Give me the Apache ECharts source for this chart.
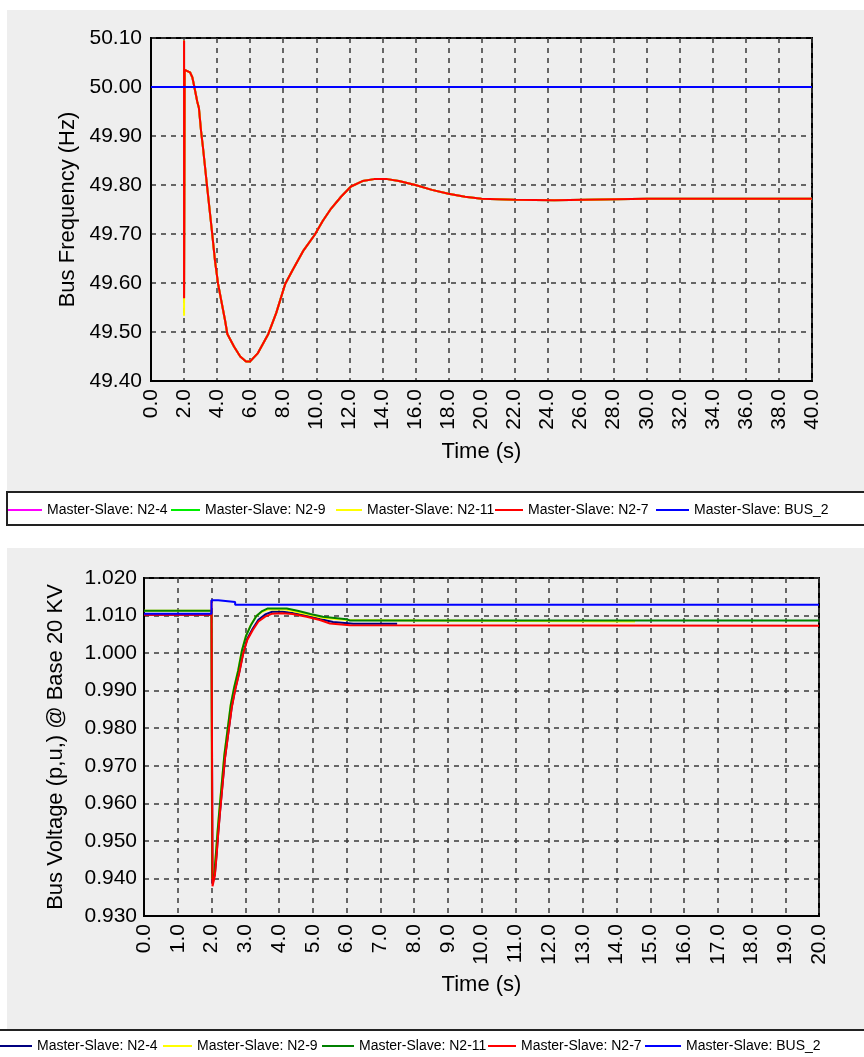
<!DOCTYPE html>
<html>
<head>
<meta charset="utf-8">
<script src="https://cdn.jsdelivr.net/npm/echarts@6/dist/echarts.min.js"></script>
<style>
html,body{margin:0;padding:0;background:#fff;width:864px;height:1057px;overflow:hidden;}
.abs{position:absolute;box-sizing:border-box;}
</style>
</head>
<body>
<div class="abs" style="left:7px;top:10px;width:857px;height:482px;background:#eeeeee;"></div>
<div class="abs" style="left:6px;top:491px;width:880px;height:35px;border:2px solid #222;background:#fff;"></div>
<div class="abs" style="left:7px;top:548px;width:857px;height:482px;background:#eeeeee;"></div>
<div class="abs" style="left:-3px;top:1029px;width:880px;height:40px;border:2px solid #222;background:#fff;"></div>
<div id="c1" class="abs" style="left:0;top:0;width:864px;height:540px;"></div>
<div id="c2" class="abs" style="left:0;top:540px;width:864px;height:517px;"></div>
<script>
// ---------- Top chart: Bus Frequency ----------
const freqXTicks = { min: 0, max: 40, interval: 2 };
const freqYTicks = { min: 49.4, max: 50.1, interval: 0.1 };
const freqNames = ['Master-Slave: N2-4', 'Master-Slave: N2-9', 'Master-Slave: N2-11', 'Master-Slave: N2-7', 'Master-Slave: BUS_2'];
const freqColors = ['#ff00ff', '#00ee00', '#ffff00', '#ff0000', '#0000ff'];

const freqTime = [0.0, 2.0, 2.0, 2.0, 2.04, 2.36, 2.5, 2.6, 2.8, 2.9, 3.03, 3.15, 3.4, 3.68, 3.88, 4.06, 4.48, 4.62, 5.03, 5.4, 5.75, 6.0, 6.47, 7.1, 7.58, 8.12, 8.58, 9.2, 9.9, 10.4, 10.9, 11.5, 12.1, 12.8, 13.5, 14.3, 15.0, 16.0, 17.0, 18.0, 19.0, 20.0, 22.0, 24.4, 24.4, 30.0, 40.0];
const freqN27 = [50.000, 50.000, 50.095, 49.569, 50.035, 50.030, 50.020, 50.004, 49.970, 49.957, 49.910, 49.875, 49.795, 49.708, 49.643, 49.598, 49.524, 49.496, 49.470, 49.450, 49.440, 49.440, 49.457, 49.496, 49.539, 49.598, 49.627, 49.665, 49.698, 49.727, 49.752, 49.776, 49.797, 49.808, 49.812, 49.812, 49.808, 49.800, 49.790, 49.782, 49.776, 49.772, 49.770, 49.769, 49.772, 49.772, 49.772];
const freqN211 = [50.000, 50.000, 50.095, 49.533, 50.035, 50.030, 50.020, 50.004, 49.970, 49.957, 49.910, 49.875, 49.795, 49.708, 49.643, 49.598, 49.524, 49.496, 49.470, 49.450, 49.440, 49.440, 49.457, 49.496, 49.539, 49.598, 49.627, 49.665, 49.698, 49.727, 49.752, 49.776, 49.797, 49.808, 49.812, 49.812, 49.808, 49.800, 49.790, 49.782, 49.776, 49.772, 49.770, 49.769, 49.772, 49.772, 49.772];
// N2-4 and N2-9 coincide with N2-7 in the picture (hidden underneath)
const freqN24 = freqN27;
const freqN29 = freqN27;
const freqBusTime = [0.0, 40.0];
const freqBus = [50.000, 50.000];

// ---------- Bottom chart: Bus Voltage ----------
const voltXTicks = { min: 0, max: 20, interval: 1 };
const voltYTicks = { min: 0.93, max: 1.02, interval: 0.01 };
const voltNames = ['Master-Slave: N2-4', 'Master-Slave: N2-9', 'Master-Slave: N2-11', 'Master-Slave: N2-7', 'Master-Slave: BUS_2'];
const voltColors = ['#000080', '#ffff00', '#008000', '#ff0000', '#0000ff'];

const voltTimeN24 = [0.0, 2.0, 2.0, 2.03, 2.1, 2.15, 2.2, 2.25, 2.4, 2.6, 2.7, 2.82, 2.94, 3.06, 3.22, 3.39, 3.59, 3.8, 4.1, 4.4, 4.82, 5.21, 5.6, 6.2, 7.5];
const voltN24 = [1.0102, 1.0102, 1.0102, 0.9385, 0.9412, 0.9463, 0.9523, 0.9576, 0.9722, 0.9857, 0.9903, 0.9948, 1.0001, 1.0038, 1.0065, 1.0089, 1.0103, 1.0110, 1.0110, 1.0107, 1.0100, 1.0091, 1.0083, 1.0078, 1.0078];

const voltTimeN29 = [0.0, 2.0, 2.02, 2.08, 2.13, 2.18, 2.23, 2.38, 2.57, 2.67, 2.79, 2.9, 3.02, 3.17, 3.33, 3.5, 3.67, 4.2, 4.6, 5.0, 5.3, 6.0, 8.0, 8.0, 14.55];
const voltN29 = [1.0113, 1.0113, 0.9400, 0.9412, 0.9468, 0.9528, 0.9580, 0.9730, 0.9863, 0.9909, 0.9955, 1.0007, 1.0046, 1.0076, 1.0099, 1.0110, 1.0116, 1.0116, 1.0108, 1.0100, 1.0094, 1.0088, 1.0087, 1.0084, 1.0084];

const voltTimeN211 = [0.0, 2.0, 2.02, 2.08, 2.13, 2.18, 2.23, 2.38, 2.57, 2.67, 2.79, 2.9, 3.02, 3.17, 3.33, 3.5, 3.67, 4.23, 4.58, 4.93, 5.3, 6.0, 6.1, 20.0];
const voltN211 = [1.0113, 1.0113, 0.9400, 0.9410, 0.9465, 0.9525, 0.9578, 0.9728, 0.9862, 0.9908, 0.9953, 1.0006, 1.0045, 1.0075, 1.0099, 1.0112, 1.0119, 1.0119, 1.0112, 1.0104, 1.0097, 1.0090, 1.0087, 1.0087];

const voltTimeN27 = [0.0, 2.0, 2.0, 2.03, 2.1, 2.15, 2.2, 2.25, 2.4, 2.6, 2.7, 2.82, 2.94, 3.06, 3.22, 3.39, 3.59, 3.8, 4.1, 4.4, 4.82, 5.21, 5.51, 6.1, 20.0];
const voltN27 = [1.0102, 1.0102, 1.0141, 0.9379, 0.9408, 0.9460, 0.9520, 0.9573, 0.9720, 0.9855, 0.9901, 0.9946, 0.9999, 1.0035, 1.0061, 1.0084, 1.0097, 1.0105, 1.0106, 1.0104, 1.0097, 1.0088, 1.0079, 1.0074, 1.0073];

const voltTimeBus = [0.0, 2.0, 2.0, 2.2, 2.2, 2.7, 2.7, 20.0];
const voltBus = [1.0105, 1.0105, 1.0141, 1.0141, 1.0136, 1.0136, 1.0129, 1.0129];

// ---------- helpers ----------
const FONT = 'Liberation Sans, Arial, sans-serif';
function pairs(ts, vs) { return ts.map((t, i) => [t, vs[i]]); }
function lineSeries(name, color, data, z) {
  return { name, type: 'line', data, symbol: 'none', showSymbol: false, z,
    lineStyle: { color, width: 2 }, itemStyle: { color }, animation: false };
}
function legends(names, lefts, widths, top) {
  return names.map((n, i) => ({
    data: [n], left: lefts[i], top, icon: 'rect', itemWidth: widths[i], itemHeight: 2, itemGap: 0,
    textStyle: { fontSize: 14, fontFamily: FONT, color: '#000' }, selectedMode: false, padding: 0
  }));
}
function axisCommon(ticks, digits, labelOpts) {
  return {
    type: 'value', min: ticks.min, max: ticks.max, interval: ticks.interval,
    axisLine: { show: true, lineStyle: { color: '#000', width: 2 } },
    axisTick: { show: false },
    splitLine: { show: true, lineStyle: { color: '#3a3a3a', width: 1.5, type: [5, 5] } },
    axisLabel: Object.assign({ formatter: v => v.toFixed(digits), color: '#000', fontSize: 21, fontFamily: FONT }, labelOpts),
    nameTextStyle: { fontSize: 22, fontFamily: FONT, color: '#000' }
  };
}

// ---------- chart 1 ----------
const c1 = echarts.init(document.getElementById('c1'));
c1.setOption({
  animation: false,
  grid: { left: 151, right: 52, top: 38, bottom: 159, show: true, borderColor: '#000', borderWidth: 2, backgroundColor: '#eeeeee' },
  xAxis: Object.assign(axisCommon(freqXTicks, 1, { rotate: 90, margin: 8 }), { name: 'Time (s)', nameLocation: 'middle', nameGap: 60 }),
  yAxis: Object.assign(axisCommon(freqYTicks, 2, { margin: 9 }), { name: 'Bus Frequency (Hz)', nameLocation: 'middle', nameGap: 70 }),
  legend: legends(freqNames, [8, 171, 336, 495, 656], [34, 29, 26, 28, 33], 503),
  series: [
    lineSeries(freqNames[0], freqColors[0], pairs(freqTime, freqN24), 1),
    lineSeries(freqNames[1], freqColors[1], pairs(freqTime, freqN29), 2),
    lineSeries(freqNames[2], freqColors[2], pairs(freqTime, freqN211), 3),
    lineSeries(freqNames[3], freqColors[3], pairs(freqTime, freqN27), 4),
    lineSeries(freqNames[4], freqColors[4], pairs(freqBusTime, freqBus), 5)
  ]
});

// ---------- chart 2 ----------
const c2 = echarts.init(document.getElementById('c2'));
c2.setOption({
  animation: false,
  grid: { left: 144, right: 45, top: 38, bottom: 141, show: true, borderColor: '#000', borderWidth: 2, backgroundColor: '#eeeeee' },
  xAxis: Object.assign(axisCommon(voltXTicks, 1, { rotate: 90, margin: 8 }), { name: 'Time (s)', nameLocation: 'middle', nameGap: 58 }),
  yAxis: Object.assign(axisCommon(voltYTicks, 3, { margin: 7 }), { name: 'Bus Voltage (p,u,) @ Base 20 KV', nameLocation: 'middle', nameGap: 77 }),
  legend: legends(voltNames, [0, 163, 322, 488, 645], [32, 29, 32, 28, 36], 499),
  series: [
    lineSeries(voltNames[0], voltColors[0], pairs(voltTimeN24, voltN24), 1),
    lineSeries(voltNames[1], voltColors[1], pairs(voltTimeN29, voltN29), 2),
    lineSeries(voltNames[2], voltColors[2], pairs(voltTimeN211, voltN211), 3),
    lineSeries(voltNames[3], voltColors[3], pairs(voltTimeN27, voltN27), 4),
    lineSeries(voltNames[4], voltColors[4], pairs(voltTimeBus, voltBus), 5)
  ]
});
</script>
</body>
</html>
